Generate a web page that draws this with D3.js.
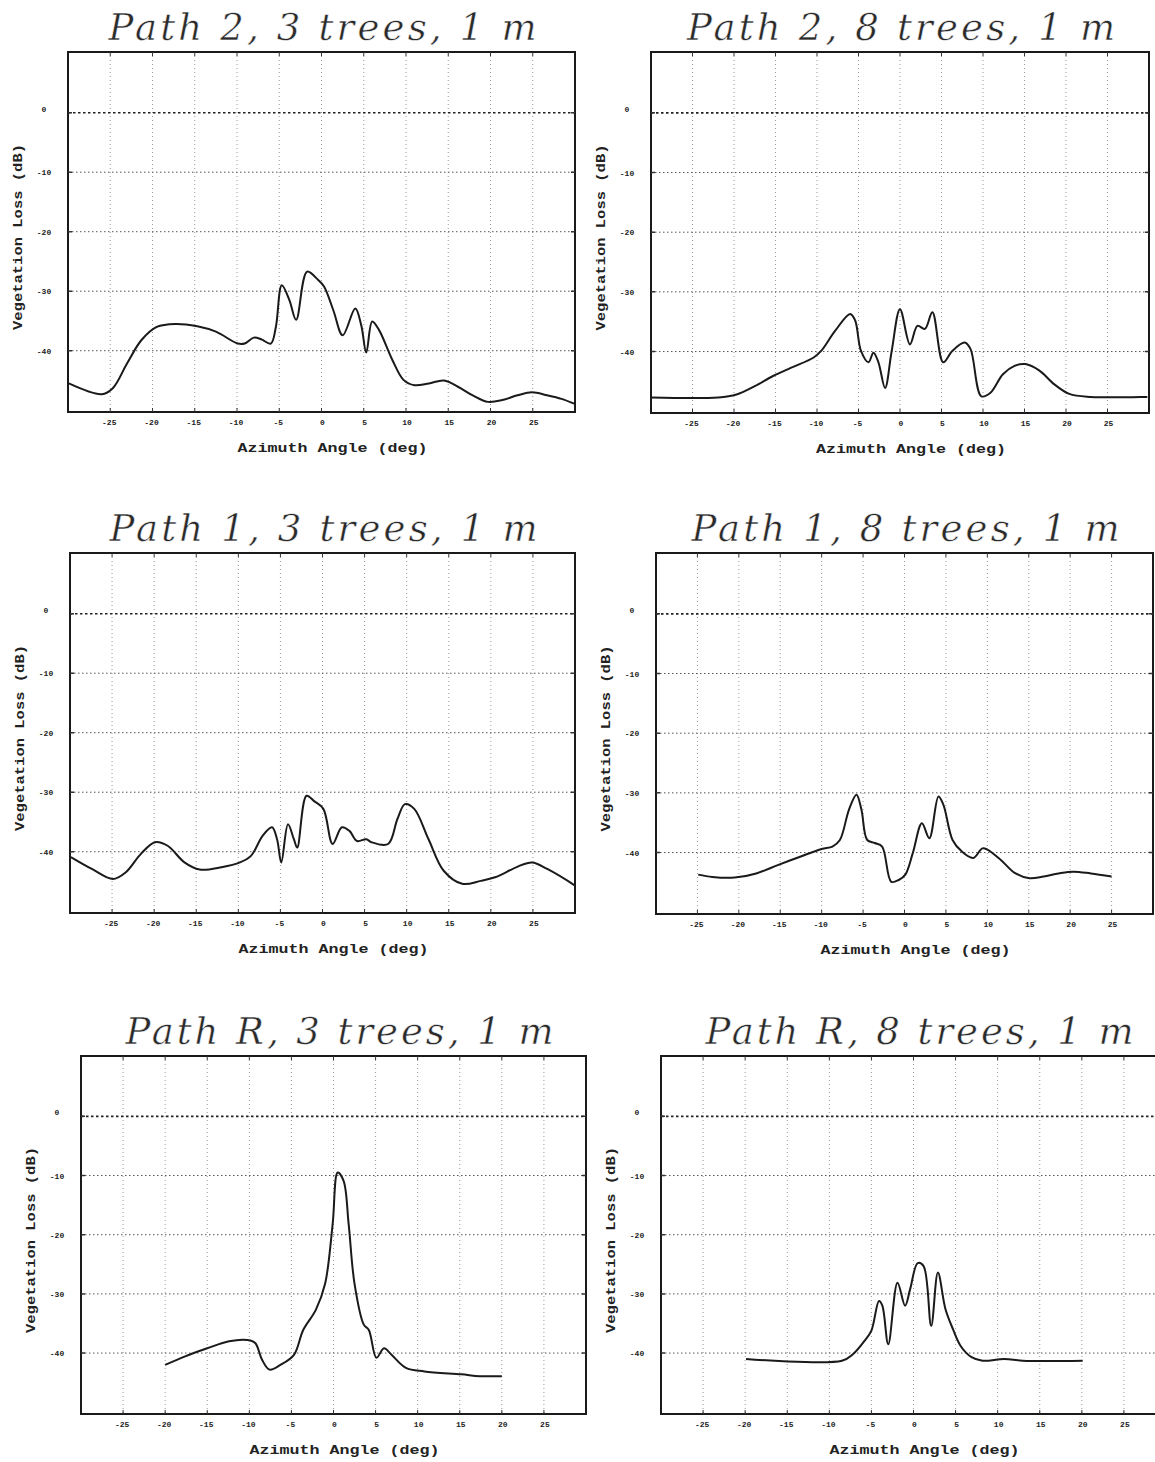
<!DOCTYPE html>
<html>
<head>
<meta charset="utf-8">
<script src="https://cdn.jsdelivr.net/npm/d3@7"></script>
<style>
  body { margin: 0; background: #fff; }
  .tick-lbl { font-family: "Liberation Mono", monospace; font-weight: bold; font-size: 8px; fill: #222; }
  .ax-title { font-family: "Liberation Mono", monospace; font-weight: bold; font-size: 13px; fill: #222; }
  .p-title { font-family: "DejaVu Serif", serif; font-style: italic; font-size: 37px; fill: #2a2a2a; stroke: #fff; stroke-width: 0.5px; }
</style>
</head>
<body>
<script>
var WIDTH = 1155,
    HEIGHT = 1462;

// tick values and labels
var xTicks = [-25, -20, -15, -10, -5, 0, 5, 10, 15, 20, 25];
var yTicks = [0, -10, -20, -30, -40];
var xLabel = 'Azimuth Angle (deg)';
var yLabel = 'Vegetation Loss (dB)';

var titles = [
    'Path 2, 3 trees, 1 m', 'Path 2, 8 trees, 1 m',
    'Path 1, 3 trees, 1 m', 'Path 1, 8 trees, 1 m',
    'Path R, 3 trees, 1 m', 'Path R, 8 trees, 1 m'
];

// Path 2, 3 trees
var p2t3Angle = [-29.9, -26.0, -24.7, -23.0, -21.3, -19.5, -17.3, -14.7, -12.5, -9.9, -9.1, -8.0, -7.1, -6.0, -5.4, -4.7, -3.8, -3.0, -1.7, -0.4, 0.3, 1.4, 2.5, 4.0, 4.7, 5.3, 6.0, 6.8, 8.4, 9.7, 11.0, 12.7, 14.5, 16.2, 17.9, 19.7, 21.4, 23.2, 24.9, 26.7, 28.4, 29.9];
var p2t3Loss  = [-45.5, -47.3, -46.3, -42.1, -38.2, -36.0, -35.5, -35.9, -36.8, -38.8, -38.8, -37.8, -38.1, -38.8, -36.0, -29.0, -31.5, -34.8, -26.7, -28.1, -29.2, -33.2, -37.4, -32.9, -35.7, -40.3, -35.1, -36.5, -41.6, -44.9, -45.8, -45.5, -45.0, -46.1, -47.5, -48.6, -48.3, -47.5, -47.0, -47.5, -48.1, -48.9];

// Path 2, 8 trees
var p2t8Angle = [-30.0, -21.9, -19.7, -17.5, -15.3, -13.1, -10.4, -9.5, -7.8, -6.0, -5.4, -4.7, -3.8, -3.2, -2.6, -1.8, -1.0, 0.0, 1.2, 2.1, 3.0, 3.9, 5.2, 6.3, 7.8, 8.5, 9.8, 10.9, 12.4, 13.8, 15.1, 16.8, 18.6, 20.4, 23.0, 29.8];
var p2t8Loss  = [-47.7, -47.7, -47.2, -45.8, -44.1, -42.7, -41.0, -39.9, -36.5, -33.7, -34.8, -39.9, -41.8, -40.2, -41.8, -46.1, -39.9, -32.9, -38.8, -35.7, -36.2, -33.4, -41.8, -39.9, -38.5, -39.6, -47.5, -46.9, -43.8, -42.4, -42.1, -43.2, -45.5, -47.1, -47.6, -47.6];

// Path 1, 3 trees
var p1t3Angle = [-29.9, -27.4, -24.9, -23.4, -21.6, -19.9, -18.4, -16.4, -14.6, -12.0, -9.8, -8.5, -7.1, -6.0, -5.4, -4.9, -4.1, -3.4, -3.0, -1.9, -1.0, 0.1, 1.2, 2.3, 3.2, 4.1, 5.2, 5.8, 7.8, 8.9, 9.8, 10.9, 12.6, 14.4, 16.6, 18.8, 20.5, 23.2, 24.9, 26.7, 30.0];
var p1t3Loss  = [-40.9, -42.9, -44.6, -43.5, -40.4, -38.4, -39.0, -41.8, -43.0, -42.6, -41.8, -40.7, -37.3, -35.9, -37.9, -41.8, -35.4, -37.9, -39.3, -30.6, -31.5, -32.8, -38.7, -35.9, -36.5, -38.2, -37.9, -38.4, -38.7, -34.5, -32.0, -32.8, -37.9, -43.2, -45.4, -44.9, -44.3, -42.5, -41.8, -42.9, -45.7];

// Path 1, 8 trees
var p1t8Angle = [-24.9, -23.2, -20.5, -17.9, -15.3, -12.6, -10.0, -8.7, -7.8, -6.7, -5.8, -5.2, -4.5, -3.6, -2.7, -1.6, -0.7, 0.1, 1.0, 2.1, 3.0, 4.1, 4.7, 5.8, 6.9, 8.3, 9.4, 10.0, 11.6, 13.3, 15.1, 16.8, 18.6, 20.4, 22.5, 25.0];
var p1t8Loss  = [-43.7, -44.1, -44.2, -43.5, -42.1, -40.7, -39.4, -39.0, -37.9, -32.8, -30.3, -32.8, -37.9, -38.4, -39.0, -44.9, -44.6, -43.7, -40.1, -35.1, -37.6, -30.6, -32.0, -37.9, -39.8, -40.9, -39.3, -39.5, -41.2, -43.4, -44.3, -44.0, -43.5, -43.2, -43.5, -44.0];

// Path R, 3 trees
var pRt3Angle = [-20.0, -17.7, -15.0, -12.4, -10.2, -9.3, -8.5, -7.6, -6.3, -4.7, -3.6, -2.1, -1.0, -0.1, 0.5, 1.2, 1.8, 2.5, 3.6, 4.2, 5.1, 6.0, 6.9, 8.6, 10.8, 15.2, 17.4, 20.0];
var pRt3Loss  = [-42.0, -40.6, -39.2, -38.0, -37.8, -38.3, -41.1, -42.8, -42.0, -40.3, -36.1, -32.7, -28.3, -18.2, -9.5, -10.9, -18.2, -28.3, -35.2, -36.1, -40.8, -39.2, -40.3, -42.5, -43.1, -43.6, -43.9, -43.9];

// Path R, 8 trees
var pRt8Angle = [-19.9, -8.5, -7.2, -5.8, -5.0, -4.1, -3.7, -3.0, -1.9, -1.0, -0.4, 0.5, 1.2, 2.1, 2.9, 3.8, 4.7, 5.6, 6.9, 8.2, 10.8, 13.0, 20.1];
var pRt8Loss  = [-41.0, -41.3, -40.2, -37.9, -36.2, -31.2, -32.0, -38.5, -28.1, -32.0, -29.2, -24.8, -25.3, -35.4, -26.4, -32.6, -36.0, -38.8, -40.7, -41.3, -41.0, -41.3, -41.3];

// frame boxes for the six plots: left, right, top, bottom
var FRAMES = [
    { l: 68,  r: 575,  t: 52,   b: 412 },
    { l: 651, r: 1149, t: 52,   b: 413 },
    { l: 70,  r: 575,  t: 553,  b: 913 },
    { l: 656, r: 1153, t: 553,  b: 914 },
    { l: 81,  r: 586,  t: 1056, b: 1414 },
    { l: 661, r: 1166, t: 1056, b: 1414 }
];

var SERIES = [
    [p2t3Angle, p2t3Loss], [p2t8Angle, p2t8Loss],
    [p1t3Angle, p1t3Loss], [p1t8Angle, p1t8Loss],
    [pRt3Angle, pRt3Loss], [pRt8Angle, pRt8Loss]
];

document.addEventListener('DOMContentLoaded', function() {
    var svg = d3.select('body').append('svg')
        .attr('width', WIDTH)
        .attr('height', HEIGHT);

    svg.append('rect')
        .attr('width', WIDTH)
        .attr('height', HEIGHT)
        .attr('fill', '#fff');

    FRAMES.forEach(function(f, i) {
        drawPanel(svg.append('g'), f, titles[i], SERIES[i][0], SERIES[i][1], i >= 4);
    });
});

function drawPanel(g, f, title, angle, loss, lowerRow) {
    var x = d3.scaleLinear().domain([-30, 30]).range([f.l, f.r]);
    var y = d3.scaleLinear().domain([-50.3, 10.2]).range([f.b, f.t]);

    // vertical grid
    g.selectAll('.vgrid')
        .data(xTicks)
        .enter().append('line')
        .attr('x1', d => x(d)).attr('x2', d => x(d))
        .attr('y1', f.t).attr('y2', f.b)
        .attr('stroke', '#999')
        .attr('stroke-width', 1)
        .attr('stroke-dasharray', '1,3');

    // horizontal grid, 0 dB line is heavier
    g.selectAll('.hgrid')
        .data(yTicks)
        .enter().append('line')
        .attr('x1', f.l).attr('x2', f.r)
        .attr('y1', d => y(d)).attr('y2', d => y(d))
        .attr('stroke', d => d === 0 ? '#222' : '#555')
        .attr('stroke-width', d => d === 0 ? 1.6 : 1)
        .attr('stroke-dasharray', d => d === 0 ? '2.5,2.5' : '1.5,2.5');

    // loss curve
    var pts = angle.map((a, k) => [a, loss[k]]);
    var line = d3.line()
        .x(d => x(d[0]))
        .y(d => y(d[1]))
        .curve(d3.curveCatmullRom.alpha(0.5));

    g.append('path')
        .datum(pts)
        .attr('d', line)
        .attr('fill', 'none')
        .attr('stroke', '#1a1a1a')
        .attr('stroke-width', 2)
        .attr('stroke-linejoin', 'round');

    // frame
    g.append('rect')
        .attr('x', f.l).attr('y', f.t)
        .attr('width', f.r - f.l).attr('height', f.b - f.t)
        .attr('fill', 'none')
        .attr('stroke', '#1a1a1a')
        .attr('stroke-width', 2);

    // small ticks on the frame
    g.selectAll('.xt')
        .data(xTicks)
        .enter().append('path')
        .attr('d', d => 'M' + x(d) + ',' + f.t + 'v4M' + x(d) + ',' + f.b + 'v-4')
        .attr('stroke', '#333');
    g.selectAll('.yt')
        .data(yTicks)
        .enter().append('path')
        .attr('d', d => 'M' + f.l + ',' + y(d) + 'h4M' + f.r + ',' + y(d) + 'h-4')
        .attr('stroke', '#333')
        .attr('stroke-width', 1.5);

    // tick labels
    g.selectAll('.xl')
        .data(xTicks)
        .enter().append('text')
        .attr('class', 'tick-lbl')
        .attr('x', d => x(d) + (d < 0 ? -1 : 1))
        .attr('y', f.b + 13)
        .attr('text-anchor', 'middle')
        .text(d => d);

    g.selectAll('.yl')
        .data(yTicks)
        .enter().append('text')
        .attr('class', 'tick-lbl')
        .attr('x', f.l - 24)
        .attr('y', d => y(d) + (d === 0 ? -1 : 3))
        .attr('text-anchor', 'middle')
        .text(d => d);

    // axis titles
    g.append('text')
        .attr('class', 'ax-title')
        .attr('x', (f.l + f.r) / 2 + 11)
        .attr('y', f.b + 40)
        .attr('text-anchor', 'middle')
        .attr('textLength', 190)
        .attr('lengthAdjust', 'spacingAndGlyphs')
        .text(xLabel);

    var cy = (f.t + f.b) / 2 + 5;
    g.append('text')
        .attr('class', 'ax-title')
        .attr('transform', 'translate(' + (f.l - 46) + ',' + cy + ') rotate(-90)')
        .attr('text-anchor', 'middle')
        .attr('textLength', 186)
        .attr('lengthAdjust', 'spacingAndGlyphs')
        .text(yLabel);

    // plot title
    g.append('text')
        .attr('class', 'p-title')
        .attr('x', (f.l + f.r) / 2 + (lowerRow ? 6 : 1))
        .attr('y', f.t - 12)
        .attr('text-anchor', 'middle')
        .attr('textLength', 428)
        .attr('lengthAdjust', 'spacing')
        .text(title);
}
</script>
</body>
</html>
